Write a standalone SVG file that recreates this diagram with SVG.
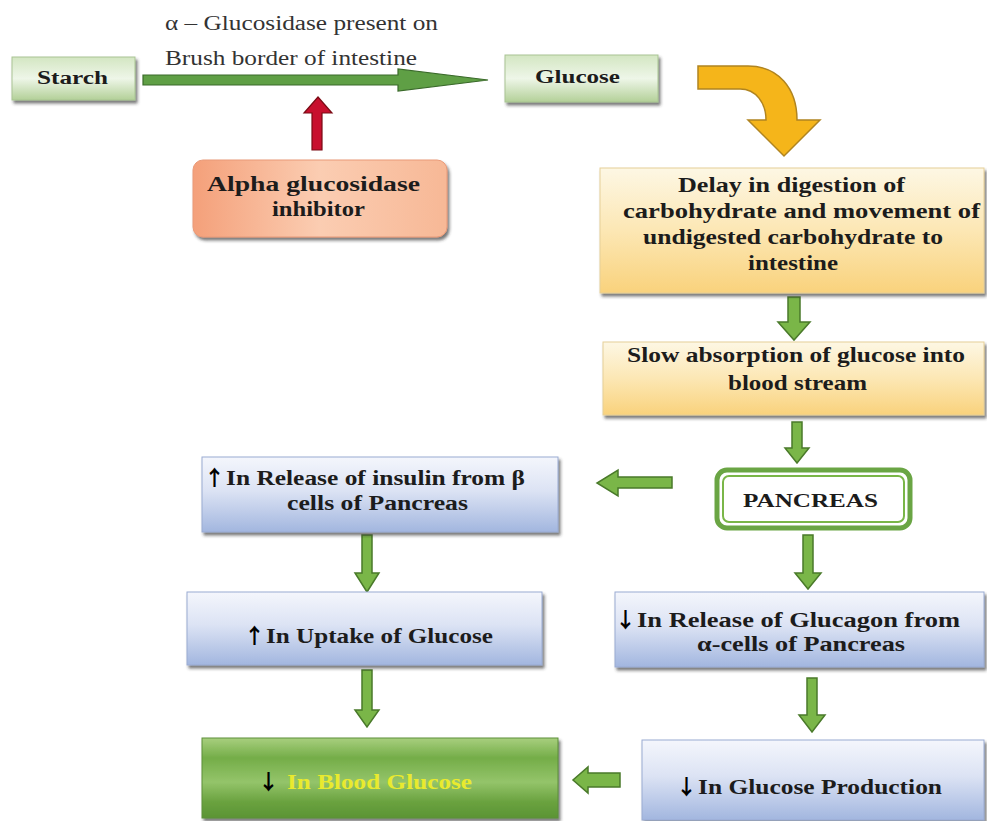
<svg xmlns="http://www.w3.org/2000/svg" width="987" height="821" viewBox="0 0 987 821">
<defs>
<linearGradient id="gGreenBox" x1="0" y1="0" x2="0" y2="1">
<stop offset="0" stop-color="#d3e6c2"/><stop offset="0.5" stop-color="#eef6e8"/><stop offset="1" stop-color="#b3d098"/>
</linearGradient>
<linearGradient id="gOrange" x1="0" y1="0" x2="1" y2="0">
<stop offset="0" stop-color="#f4a07a"/><stop offset="0.5" stop-color="#fbcdb2"/><stop offset="1" stop-color="#f7b896"/>
</linearGradient>
<linearGradient id="gYellow" x1="0" y1="0" x2="0" y2="1">
<stop offset="0" stop-color="#fdf7e4"/><stop offset="0.5" stop-color="#fce7b4"/><stop offset="1" stop-color="#f9d27c"/>
</linearGradient>
<linearGradient id="gBlue" x1="0" y1="0" x2="0" y2="1">
<stop offset="0" stop-color="#f4f6fc"/><stop offset="0.45" stop-color="#dce3f4"/><stop offset="1" stop-color="#a2b6df"/>
</linearGradient>
<linearGradient id="gBlood" x1="0" y1="0" x2="0" y2="1">
<stop offset="0" stop-color="#a8cf7e"/><stop offset="0.25" stop-color="#74ad48"/><stop offset="0.55" stop-color="#94c46a"/><stop offset="0.8" stop-color="#6aa23f"/><stop offset="1" stop-color="#5b9434"/>
</linearGradient>
<filter id="sh" x="-10%" y="-10%" width="125%" height="140%">
<feDropShadow dx="2" dy="3" stdDeviation="1.5" flood-color="#333" flood-opacity="0.65"/>
</filter>
</defs>
<style>
text{font-family:"Liberation Serif","Times New Roman",serif;font-weight:bold;fill:#1c1c1c}
.lbl{font-weight:normal;fill:#333;font-size:20px}
.t18{font-size:18px}.t19{font-size:19px}.t20{font-size:20px}.t21{font-size:21px}
.ar{font-family:"Noto Sans CJK JP","DejaVu Sans",sans-serif;font-size:21px;font-weight:bold;fill:#000}
.box{filter:url(#sh)}
.ga{fill:#7ab648;stroke:#4a7a2a;stroke-width:1.5}
</style>

<g id="connectors">
<path id="arr-starch-glucose" d="M143,75 H398 V69 L488,80 L398,91 V85 H143 Z" fill="#5f9f45" stroke="#3a6a2a" stroke-width="1.2"/>
<path id="arr-inhibitor" d="M312,150 V113 H304 L318,97 L332,113 H322 V150 Z" fill="#c8102e" stroke="#7a0a14" stroke-width="1.2"/>
<path id="arr-curved" d="M698,66 H748 C778,66 797,88 797,120 H820 L784,156 L748,120 H766 C766,103 756,89 740,89 H698 Z" fill="#f5b51a" stroke="#b08420" stroke-width="1.5"/>
<path class="ga" d="M788,297 V322 H778 L794,340 L810,322 H800 V297 Z"/>
<path class="ga" d="M792,422 V448 H785 L797,463 L809,448 H802 V422 Z"/>
<path class="ga" d="M803,535 V573 H795 L808,589 L821,573 H813 V535 Z"/>
<path class="ga" d="M362,535 V573 H355 L367,592 L379,573 H372 V535 Z"/>
<path class="ga" d="M362,670 V710 H355 L367,727 L379,710 H372 V670 Z"/>
<path class="ga" d="M807,678 V715 H799 L812,732 L825,715 H817 V678 Z"/>
<path class="ga" d="M672,477 H618 V470 L597,483 L618,496 V488 H672 Z"/>
<path class="ga" d="M620,773 H588 V767 L573,780 L588,793 V787 H620 Z"/>
</g>

<g id="label-enzyme">
<text class="lbl" x="165" y="30" textLength="273" lengthAdjust="spacingAndGlyphs">α – Glucosidase present on</text>
<text class="lbl" x="165" y="65" textLength="252" lengthAdjust="spacingAndGlyphs">Brush border of intestine</text>
</g>

<g id="starch">
<rect class="box" x="12" y="57" width="123" height="43" fill="url(#gGreenBox)" stroke="#a9c493" stroke-width="1"/>
<text class="t18" x="37" y="84" textLength="71" lengthAdjust="spacingAndGlyphs">Starch</text>
</g>

<g id="glucose">
<rect class="box" x="505" y="55" width="153" height="47" fill="url(#gGreenBox)" stroke="#a9c493" stroke-width="1"/>
<text class="t19" x="535" y="83" textLength="85" lengthAdjust="spacingAndGlyphs">Glucose</text>
</g>

<g id="inhibitor">
<rect class="box" x="193" y="160" width="254" height="77" rx="10" fill="url(#gOrange)" stroke="#e99a78" stroke-width="1"/>
<text class="t20" x="207" y="191" textLength="213" lengthAdjust="spacingAndGlyphs">Alpha glucosidase</text>
<text class="t20" x="272" y="216" textLength="93" lengthAdjust="spacingAndGlyphs">inhibitor</text>
</g>

<g id="delay">
<rect class="box" x="600" y="168" width="384" height="125" fill="url(#gYellow)" stroke="#e6cf98" stroke-width="1"/>
<text class="t21" x="678" y="192" textLength="227" lengthAdjust="spacingAndGlyphs">Delay in digestion of</text>
<text class="t21" x="623" y="218" textLength="357" lengthAdjust="spacingAndGlyphs">carbohydrate and movement of</text>
<text class="t21" x="643" y="244" textLength="300" lengthAdjust="spacingAndGlyphs">undigested carbohydrate to</text>
<text class="t21" x="748" y="270" textLength="90" lengthAdjust="spacingAndGlyphs">intestine</text>
</g>

<g id="slow">
<rect class="box" x="603" y="342" width="381" height="73" fill="url(#gYellow)" stroke="#e6cf98" stroke-width="1"/>
<text class="t21" x="627" y="362" textLength="338" lengthAdjust="spacingAndGlyphs">Slow absorption of glucose into</text>
<text class="t21" x="728" y="390" textLength="139" lengthAdjust="spacingAndGlyphs">blood stream</text>
</g>

<g id="pancreas">
<rect x="717" y="470" width="193" height="58" rx="10" fill="#fff" stroke="#6aa544" stroke-width="5"/>
<rect x="723" y="476" width="181" height="46" rx="6" fill="#fff" stroke="#7ab648" stroke-width="2"/>
<text class="t18" x="743" y="507" textLength="135" lengthAdjust="spacingAndGlyphs">PANCREAS</text>
</g>

<g id="insulin">
<rect class="box" x="202" y="457" width="356" height="75" fill="url(#gBlue)" stroke="#9aabd2" stroke-width="1"/>
<text class="t20" y="485"><tspan class="ar" x="204">↑</tspan><tspan x="226" textLength="299" lengthAdjust="spacingAndGlyphs">In Release of insulin from β</tspan></text>
<text class="t20" x="287" y="510" textLength="181" lengthAdjust="spacingAndGlyphs">cells of Pancreas</text>
</g>

<g id="uptake">
<rect class="box" x="187" y="592" width="355" height="73" fill="url(#gBlue)" stroke="#9aabd2" stroke-width="1"/>
<text class="t20" y="643"><tspan class="ar" x="244">↑</tspan><tspan x="266" textLength="227" lengthAdjust="spacingAndGlyphs">In Uptake of Glucose</tspan></text>
</g>

<g id="glucagon">
<rect class="box" x="615" y="592" width="369" height="75" fill="url(#gBlue)" stroke="#9aabd2" stroke-width="1"/>
<text class="t20" y="627"><tspan class="ar" x="615">↓</tspan><tspan x="637" textLength="323" lengthAdjust="spacingAndGlyphs">In Release of Glucagon from</tspan></text>
<text class="t20" x="697" y="651" textLength="208" lengthAdjust="spacingAndGlyphs">α-cells of Pancreas</text>
</g>

<g id="blood-glucose">
<rect class="box" x="202" y="738" width="356" height="80" fill="url(#gBlood)" stroke="#5d8f3a" stroke-width="1"/>
<text class="t20" y="789"><tspan class="ar" x="258">↓</tspan><tspan x="287" textLength="185" lengthAdjust="spacingAndGlyphs" style="fill:#e9ea2e">In Blood Glucose</tspan></text>
</g>

<g id="production">
<rect class="box" x="642" y="740" width="342" height="80" fill="url(#gBlue)" stroke="#9aabd2" stroke-width="1"/>
<text class="t20" y="794"><tspan class="ar" x="676">↓</tspan><tspan x="698" textLength="244" lengthAdjust="spacingAndGlyphs">In Glucose Production</tspan></text>
</g>
</svg>
